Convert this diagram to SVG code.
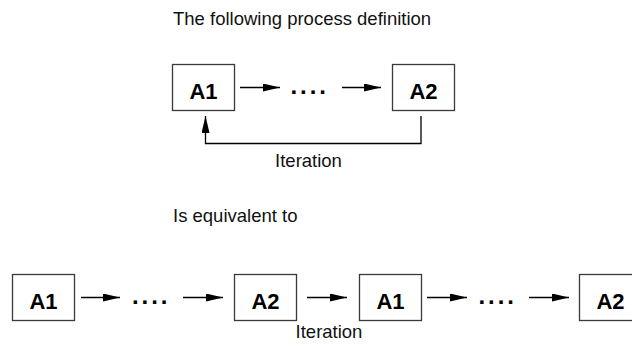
<svg xmlns="http://www.w3.org/2000/svg" width="632" height="347" viewBox="0 0 632 347">
<defs>
<marker id="ah" markerUnits="userSpaceOnUse" markerWidth="18" markerHeight="9" refX="17" refY="4" orient="auto">
<path d="M0,0 L17,4 L0,8 Z" fill="#000"/>
</marker>
</defs>
<style>
.box{fill:#fff;stroke:#3a3a3a;stroke-width:1.3}
.lbl{font-family:"Liberation Sans",Arial,sans-serif;font-weight:bold;font-size:22px;fill:#000;text-anchor:middle}
.txt{font-family:"Liberation Sans",Arial,sans-serif;font-size:18.5px;fill:#111}
.dots{font-family:"Liberation Sans",Arial,sans-serif;font-weight:bold;font-size:24px;fill:#000;letter-spacing:2.9px}
.c{fill:none;stroke:#000;stroke-width:1.3}
.ca{fill:none;stroke:#000;stroke-width:1.3;marker-end:url(#ah)}
</style>
<rect width="632" height="347" fill="#fff"/>
<text class="txt" x="173" y="25">The following process definition</text>
<text class="txt" x="173" y="222">Is equivalent to</text>

<g id="top-a1"><rect class="box" x="172.5" y="64.5" width="62" height="46"/><text class="lbl" x="203.5" y="98.5">A1</text></g>
<g id="top-a2"><rect class="box" x="392.5" y="64.5" width="62" height="46"/><text class="lbl" x="423.5" y="98.5">A2</text></g>

<g id="bot-a1a"><rect class="box" x="12.5" y="274.5" width="62" height="46"/><text class="lbl" x="43.5" y="308.5">A1</text></g>
<g id="bot-a2a"><rect class="box" x="234.5" y="274.5" width="62" height="46"/><text class="lbl" x="265.5" y="308.5">A2</text></g>
<g id="bot-a1b"><rect class="box" x="359.5" y="274.5" width="62" height="46"/><text class="lbl" x="390.5" y="308.5">A1</text></g>
<g id="bot-a2b"><rect class="box" x="579.5" y="274.5" width="62" height="46"/><text class="lbl" x="610.5" y="308.5">A2</text></g>

<g id="connectors">
<line class="ca" x1="240" y1="87.5" x2="280" y2="87.5"/>
<text class="dots" x="290.5" y="93.5">....</text>
<line class="ca" x1="342" y1="87.5" x2="381" y2="87.5"/>
<path class="ca" d="M421,116 V143.5 H205.5 V116"/>
<text class="txt" x="308.5" y="167" text-anchor="middle">Iteration</text>

<line class="ca" x1="81" y1="297.5" x2="120" y2="297.5"/>
<text class="dots" x="132" y="303.5">....</text>
<line class="ca" x1="183" y1="297.5" x2="223" y2="297.5"/>
<line class="ca" x1="307" y1="297.5" x2="347" y2="297.5"/>
<text class="txt" x="329" y="338" text-anchor="middle">Iteration</text>
<line class="ca" x1="427" y1="297.5" x2="467" y2="297.5"/>
<text class="dots" x="478.5" y="303.5">....</text>
<line class="ca" x1="529" y1="297.5" x2="569" y2="297.5"/>
</g>
</svg>
